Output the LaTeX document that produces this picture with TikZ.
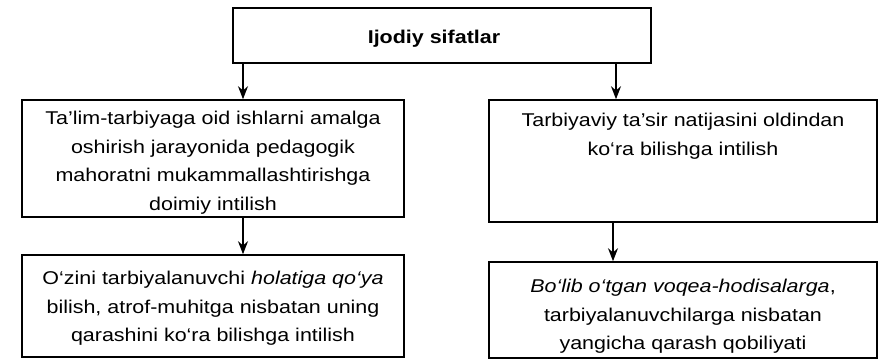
\documentclass[tikz,border=0pt]{standalone}
\usepackage{fontspec}
\setmainfont[FakeStretch=1.16]{Liberation Sans}
\usetikzlibrary{arrows.meta}
\begin{document}
\begin{tikzpicture}[x=1pt,y=-1pt,
  box/.style={draw,line width=1.6pt,rectangle,inner sep=0pt},
  txt/.style={align=center,font=\fontsize{18.5}{28.6}\selectfont,inner sep=0pt},
  arr/.style={line width=1.4pt,-{Stealth[length=13pt,width=10pt]}}]
\useasboundingbox (0,0) rectangle (881,360);
% top
\node[box,minimum width=418pt,minimum height=55pt] (top) at (442,35.5) {};
\node[anchor=north,inner sep=0pt,font=\fontsize{18.5}{22}\selectfont\bfseries] (topt) at (434,30) {Ijodiy sifatlar};
% left column
\node[box,minimum width=382pt,minimum height=117pt] (l1) at (213,158.5) {};
\node[txt,anchor=north] (l1t) at (213,111) {Ta’lim-tarbiyaga oid ishlarni amalga\\oshirish jarayonida pedagogik\\mahoratni mukammallashtirishga\\doimiy intilish};
\node[box,minimum width=382pt,minimum height=102pt] (l2) at (213,306) {};
\node[txt,anchor=north] (l2t) at (213,271) {O‘zini tarbiyalanuvchi \textit{holatiga qo‘ya}\\bilish, atrof-muhitga nisbatan uning\\qarashini ko‘ra bilishga intilish};
% right column
\node[box,minimum width=388pt,minimum height=122pt] (r1) at (683,161) {};
\node[txt,anchor=north] (r1t) at (683,113) {Tarbiyaviy ta’sir natijasini oldindan\\ko‘ra bilishga intilish};
\node[box,minimum width=388pt,minimum height=96pt] (r2) at (683,310) {};
\node[txt,anchor=north] (r2t) at (683,279) {\textit{Bo‘lib o‘tgan voqea-hodisalarga},\\tarbiyalanuvchilarga nisbatan\\yangicha qarash qobiliyati};
% arrows
\draw[arr] (top.south -| 243,0) -- (l1.north -| 243,0);
\draw[arr] (top.south -| 616,0) -- (r1.north -| 616,0);
\draw[arr] (l1.south -| 243,0) -- (l2.north -| 243,0);
\draw[arr] (r1.south -| 613,0) -- (r2.north -| 613,0);
\end{tikzpicture}
\end{document}
